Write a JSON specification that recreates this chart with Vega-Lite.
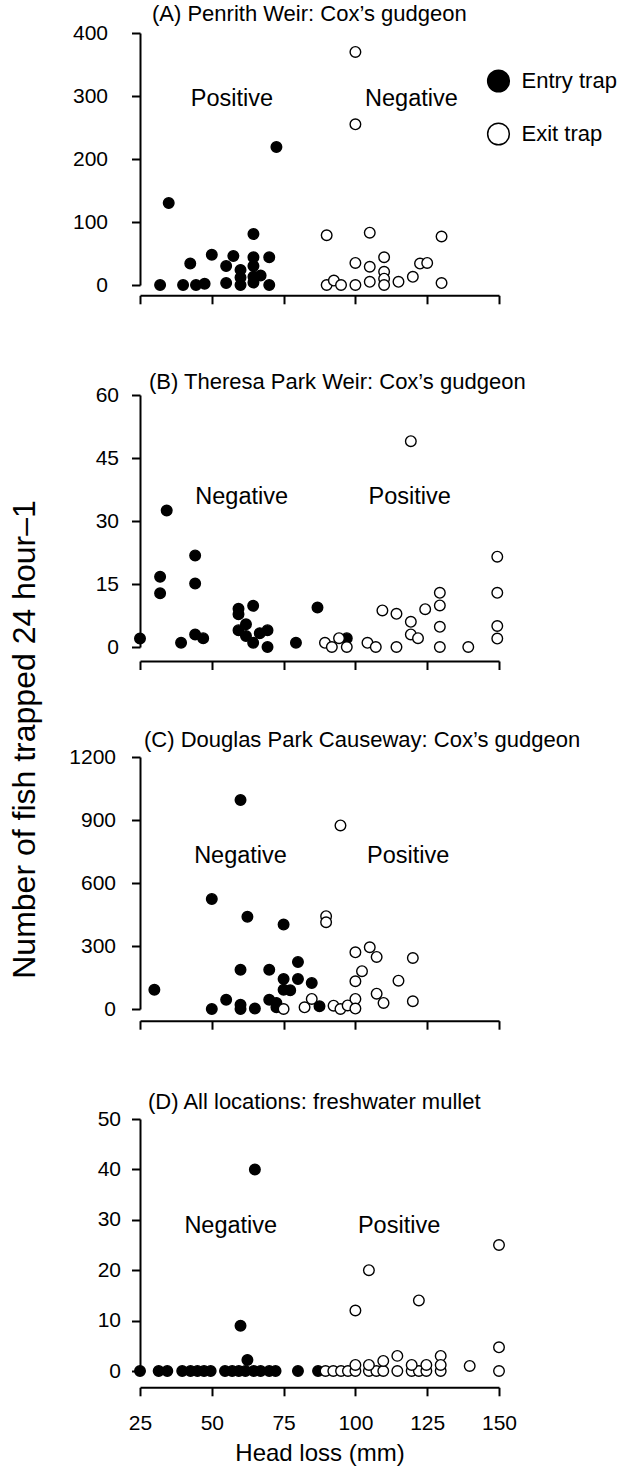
{
  "$schema": "https://vega.github.io/schema/vega-lite/v6.json",
  "background": "white",
  "padding": {"left": 8, "top": 2, "right": 0, "bottom": 0},
  "bounds": "flush",
  "spacing": 110,
  "datasets": {
    "a": [
      {"h": 32, "n": 0, "trap": "Entry trap"}, {"h": 35, "n": 130, "trap": "Entry trap"},
      {"h": 40, "n": 0, "trap": "Entry trap"}, {"h": 42.5, "n": 34, "trap": "Entry trap"},
      {"h": 44.5, "n": 0, "trap": "Entry trap"}, {"h": 47.5, "n": 2, "trap": "Entry trap"},
      {"h": 50, "n": 48, "trap": "Entry trap"}, {"h": 55, "n": 30, "trap": "Entry trap"},
      {"h": 55, "n": 3, "trap": "Entry trap"}, {"h": 57.5, "n": 46, "trap": "Entry trap"},
      {"h": 60, "n": 24, "trap": "Entry trap"}, {"h": 60, "n": 12, "trap": "Entry trap"},
      {"h": 60, "n": 0, "trap": "Entry trap"}, {"h": 64.5, "n": 81, "trap": "Entry trap"},
      {"h": 64.5, "n": 44, "trap": "Entry trap"}, {"h": 64.5, "n": 30, "trap": "Entry trap"},
      {"h": 64.5, "n": 13, "trap": "Entry trap"}, {"h": 64.5, "n": 4, "trap": "Entry trap"},
      {"h": 67, "n": 15, "trap": "Entry trap"}, {"h": 70, "n": 44, "trap": "Entry trap"},
      {"h": 70, "n": 0, "trap": "Entry trap"}, {"h": 72.5, "n": 219, "trap": "Entry trap"},
      {"h": 90, "n": 0, "trap": "Exit trap"}, {"h": 90, "n": 79, "trap": "Exit trap"},
      {"h": 92.5, "n": 7, "trap": "Exit trap"}, {"h": 95, "n": 0, "trap": "Exit trap"},
      {"h": 100, "n": 370, "trap": "Exit trap"}, {"h": 100, "n": 255, "trap": "Exit trap"},
      {"h": 100, "n": 35, "trap": "Exit trap"}, {"h": 100, "n": 0, "trap": "Exit trap"},
      {"h": 105, "n": 83, "trap": "Exit trap"}, {"h": 105, "n": 29, "trap": "Exit trap"},
      {"h": 105, "n": 5, "trap": "Exit trap"}, {"h": 110, "n": 44, "trap": "Exit trap"},
      {"h": 110, "n": 21, "trap": "Exit trap"}, {"h": 110, "n": 10, "trap": "Exit trap"},
      {"h": 110, "n": 0, "trap": "Exit trap"}, {"h": 115, "n": 5, "trap": "Exit trap"},
      {"h": 120, "n": 13, "trap": "Exit trap"}, {"h": 122.5, "n": 34, "trap": "Exit trap"},
      {"h": 125, "n": 35, "trap": "Exit trap"}, {"h": 130, "n": 77, "trap": "Exit trap"},
      {"h": 130, "n": 3, "trap": "Exit trap"}
    ],
    "b": [
      {"h": 25, "n": 2, "trap": "Entry trap"}, {"h": 32, "n": 16.7, "trap": "Entry trap"},
      {"h": 32, "n": 12.8, "trap": "Entry trap"}, {"h": 34.3, "n": 32.5, "trap": "Entry trap"},
      {"h": 39.3, "n": 1, "trap": "Entry trap"}, {"h": 44.2, "n": 21.8, "trap": "Entry trap"},
      {"h": 44.2, "n": 15.1, "trap": "Entry trap"}, {"h": 44.2, "n": 3, "trap": "Entry trap"},
      {"h": 47, "n": 2.1, "trap": "Entry trap"}, {"h": 59.3, "n": 9.1, "trap": "Entry trap"},
      {"h": 59.3, "n": 7.8, "trap": "Entry trap"}, {"h": 59.3, "n": 4, "trap": "Entry trap"},
      {"h": 61.9, "n": 5.4, "trap": "Entry trap"}, {"h": 61.9, "n": 2.6, "trap": "Entry trap"},
      {"h": 64.4, "n": 9.8, "trap": "Entry trap"}, {"h": 64.4, "n": 1, "trap": "Entry trap"},
      {"h": 66.7, "n": 3.3, "trap": "Entry trap"}, {"h": 69.4, "n": 4, "trap": "Entry trap"},
      {"h": 69.4, "n": 0, "trap": "Entry trap"}, {"h": 79.3, "n": 1, "trap": "Entry trap"},
      {"h": 86.8, "n": 9.4, "trap": "Entry trap"}, {"h": 97, "n": 2.1, "trap": "Entry trap"},
      {"h": 89.4, "n": 1, "trap": "Exit trap"}, {"h": 91.8, "n": 0, "trap": "Exit trap"},
      {"h": 94.3, "n": 2.1, "trap": "Exit trap"}, {"h": 97, "n": 0, "trap": "Exit trap"},
      {"h": 104.2, "n": 1, "trap": "Exit trap"}, {"h": 107.1, "n": 0, "trap": "Exit trap"},
      {"h": 109.4, "n": 8.7, "trap": "Exit trap"}, {"h": 114.3, "n": 7.9, "trap": "Exit trap"},
      {"h": 114.3, "n": 0, "trap": "Exit trap"}, {"h": 119.3, "n": 49, "trap": "Exit trap"},
      {"h": 119.3, "n": 6, "trap": "Exit trap"}, {"h": 119.3, "n": 3, "trap": "Exit trap"},
      {"h": 121.8, "n": 2.1, "trap": "Exit trap"}, {"h": 124.3, "n": 9, "trap": "Exit trap"},
      {"h": 129.4, "n": 12.9, "trap": "Exit trap"}, {"h": 129.4, "n": 9.9, "trap": "Exit trap"},
      {"h": 129.4, "n": 4.8, "trap": "Exit trap"}, {"h": 129.4, "n": 0, "trap": "Exit trap"},
      {"h": 139.3, "n": 0, "trap": "Exit trap"}, {"h": 149.4, "n": 21.5, "trap": "Exit trap"},
      {"h": 149.4, "n": 12.9, "trap": "Exit trap"}, {"h": 149.4, "n": 5, "trap": "Exit trap"},
      {"h": 149.4, "n": 2, "trap": "Exit trap"}
    ],
    "c": [
      {"h": 30, "n": 92, "trap": "Entry trap"}, {"h": 50, "n": 524, "trap": "Entry trap"},
      {"h": 50, "n": 0, "trap": "Entry trap"}, {"h": 55, "n": 44, "trap": "Entry trap"},
      {"h": 60, "n": 995, "trap": "Entry trap"}, {"h": 60, "n": 187, "trap": "Entry trap"},
      {"h": 60, "n": 20, "trap": "Entry trap"}, {"h": 60, "n": 0, "trap": "Entry trap"},
      {"h": 62.4, "n": 439, "trap": "Entry trap"}, {"h": 65, "n": 2, "trap": "Entry trap"},
      {"h": 70, "n": 187, "trap": "Entry trap"}, {"h": 70, "n": 44, "trap": "Entry trap"},
      {"h": 72.5, "n": 29, "trap": "Entry trap"}, {"h": 72.5, "n": 8, "trap": "Entry trap"},
      {"h": 75, "n": 402, "trap": "Entry trap"}, {"h": 75, "n": 143, "trap": "Entry trap"},
      {"h": 75, "n": 92, "trap": "Entry trap"}, {"h": 77.3, "n": 89, "trap": "Entry trap"},
      {"h": 80, "n": 224, "trap": "Entry trap"}, {"h": 80, "n": 143, "trap": "Entry trap"},
      {"h": 84.8, "n": 124, "trap": "Entry trap"}, {"h": 87.5, "n": 13, "trap": "Entry trap"},
      {"h": 75, "n": 0, "trap": "Exit trap"}, {"h": 82.3, "n": 8, "trap": "Exit trap"},
      {"h": 84.8, "n": 48, "trap": "Exit trap"}, {"h": 89.8, "n": 442, "trap": "Exit trap"},
      {"h": 89.8, "n": 413, "trap": "Exit trap"}, {"h": 92.4, "n": 16, "trap": "Exit trap"},
      {"h": 94.8, "n": 874, "trap": "Exit trap"}, {"h": 94.8, "n": 0, "trap": "Exit trap"},
      {"h": 97.3, "n": 17, "trap": "Exit trap"}, {"h": 100, "n": 270, "trap": "Exit trap"},
      {"h": 100, "n": 132, "trap": "Exit trap"}, {"h": 100, "n": 48, "trap": "Exit trap"},
      {"h": 100, "n": 2, "trap": "Exit trap"}, {"h": 102.3, "n": 180, "trap": "Exit trap"},
      {"h": 105, "n": 294, "trap": "Exit trap"}, {"h": 107.4, "n": 248, "trap": "Exit trap"},
      {"h": 107.4, "n": 73, "trap": "Exit trap"}, {"h": 109.8, "n": 29, "trap": "Exit trap"},
      {"h": 115, "n": 135, "trap": "Exit trap"}, {"h": 120, "n": 243, "trap": "Exit trap"},
      {"h": 120, "n": 37, "trap": "Exit trap"}
    ],
    "d": [
      {"h": 25, "n": 0, "trap": "Entry trap"}, {"h": 31.5, "n": 0, "trap": "Entry trap"},
      {"h": 34.5, "n": 0, "trap": "Entry trap"}, {"h": 39.7, "n": 0, "trap": "Entry trap"},
      {"h": 42.6, "n": 0, "trap": "Entry trap"}, {"h": 45, "n": 0, "trap": "Entry trap"},
      {"h": 47.3, "n": 0, "trap": "Entry trap"}, {"h": 49.6, "n": 0, "trap": "Entry trap"},
      {"h": 54.6, "n": 0, "trap": "Entry trap"}, {"h": 57.1, "n": 0, "trap": "Entry trap"},
      {"h": 59.4, "n": 0, "trap": "Entry trap"}, {"h": 61.7, "n": 0, "trap": "Entry trap"},
      {"h": 64.6, "n": 0, "trap": "Entry trap"}, {"h": 67, "n": 0, "trap": "Entry trap"},
      {"h": 70, "n": 0, "trap": "Entry trap"}, {"h": 72.2, "n": 0, "trap": "Entry trap"},
      {"h": 80, "n": 0, "trap": "Entry trap"}, {"h": 87, "n": 0, "trap": "Entry trap"},
      {"h": 65, "n": 40, "trap": "Entry trap"}, {"h": 60, "n": 9, "trap": "Entry trap"},
      {"h": 62.4, "n": 2.2, "trap": "Entry trap"},
      {"h": 89.6, "n": 0, "trap": "Exit trap"}, {"h": 92.3, "n": 0, "trap": "Exit trap"},
      {"h": 95, "n": 0, "trap": "Exit trap"}, {"h": 97.4, "n": 0, "trap": "Exit trap"},
      {"h": 100, "n": 0, "trap": "Exit trap"}, {"h": 104.7, "n": 0, "trap": "Exit trap"},
      {"h": 107.3, "n": 0, "trap": "Exit trap"}, {"h": 109.7, "n": 0, "trap": "Exit trap"},
      {"h": 114.6, "n": 0, "trap": "Exit trap"}, {"h": 119.6, "n": 0, "trap": "Exit trap"},
      {"h": 122.1, "n": 0, "trap": "Exit trap"}, {"h": 124.7, "n": 0, "trap": "Exit trap"},
      {"h": 129.7, "n": 0, "trap": "Exit trap"}, {"h": 150, "n": 0, "trap": "Exit trap"},
      {"h": 100, "n": 1.2, "trap": "Exit trap"}, {"h": 100, "n": 12, "trap": "Exit trap"},
      {"h": 104.7, "n": 20, "trap": "Exit trap"}, {"h": 104.7, "n": 1.2, "trap": "Exit trap"},
      {"h": 109.7, "n": 2, "trap": "Exit trap"}, {"h": 114.6, "n": 3, "trap": "Exit trap"},
      {"h": 119.6, "n": 1.2, "trap": "Exit trap"}, {"h": 122.1, "n": 14, "trap": "Exit trap"},
      {"h": 124.7, "n": 1.2, "trap": "Exit trap"}, {"h": 129.7, "n": 3, "trap": "Exit trap"},
      {"h": 129.7, "n": 1.2, "trap": "Exit trap"}, {"h": 139.8, "n": 1, "trap": "Exit trap"},
      {"h": 150, "n": 25, "trap": "Exit trap"}, {"h": 150, "n": 4.7, "trap": "Exit trap"}
    ],
    "notes": [
      {"panel": "A", "h": 57, "n": 295, "label": "Positive"},
      {"panel": "A", "h": 119.5, "n": 295, "label": "Negative"},
      {"panel": "B", "h": 60.4, "n": 35.8, "label": "Negative"},
      {"panel": "B", "h": 118.9, "n": 35.8, "label": "Positive"},
      {"panel": "C", "h": 60, "n": 728, "label": "Negative"},
      {"panel": "C", "h": 118.4, "n": 728, "label": "Positive"},
      {"panel": "D", "h": 56.6, "n": 28.7, "label": "Negative"},
      {"panel": "D", "h": 115.2, "n": 28.7, "label": "Positive"}
    ]
  },
  "vconcat": [
    {
      "width": 359, "height": 252,
      "title": {"text": "(A) Penrith Weir: Cox’s gudgeon", "dx": 12, "offset": -3.7},
      "layer": [
        {
          "data": {"name": "a"},
          "mark": {"type": "circle", "size": 112, "stroke": "black", "strokeWidth": 1.4, "opacity": 1},
          "encoding": {
            "x": {"field": "h", "type": "quantitative", "scale": {"domain": [25, 150], "nice": false},
                  "axis": {"values": [25, 50, 75, 100, 125, 150], "labels": false, "title": null, "offset": 10.3,
                           "domain": true, "domainColor": "#000000", "domainWidth": 2}},
            "y": {"field": "n", "type": "quantitative", "scale": {"domain": [0, 400], "nice": false},
                  "axis": {"values": [0, 100, 200, 300, 400], "format": "d", "title": null, "labelPadding": 24,
                           "domain": true, "domainColor": "#000000", "domainWidth": 2}},
            "fill": {"field": "trap", "type": "nominal",
                     "scale": {"domain": ["Entry trap", "Exit trap"], "range": ["black", "white"]},
                     "legend": {"orient": "none", "legendX": 346.5, "legendY": 36, "title": null}}
          }
        },
        {
          "data": {"name": "notes"},
          "transform": [{"filter": "datum.panel === 'A'"}],
          "mark": {"type": "text", "fontSize": 23.5},
          "encoding": {
            "x": {"field": "h", "type": "quantitative", "scale": {"domain": [25, 150]}},
            "y": {"field": "n", "type": "quantitative", "scale": {"domain": [0, 400]}},
            "text": {"field": "label"}
          }
        }
      ]
    },
    {
      "width": 359, "height": 252,
      "title": {"text": "(B) Theresa Park Weir: Cox’s gudgeon", "dx": 9, "offset": -10},
      "layer": [
        {
          "data": {"name": "b"},
          "mark": {"type": "circle", "size": 112, "stroke": "black", "strokeWidth": 1.4, "opacity": 1},
          "encoding": {
            "x": {"field": "h", "type": "quantitative", "scale": {"domain": [25, 150], "nice": false},
                  "axis": {"values": [25, 50, 75, 100, 125, 150], "labels": false, "title": null, "offset": 14,
                           "domain": true, "domainColor": "#000000", "domainWidth": 2}},
            "y": {"field": "n", "type": "quantitative", "scale": {"domain": [0, 60], "nice": false},
                  "axis": {"values": [0, 15, 30, 45, 60], "format": "d", "labelPadding": 13,
                           "domain": true, "domainColor": "#000000", "domainWidth": 2,
                           "title": "Number of fish trapped 24 hour–1", "titleFontSize": 32,
                           "titleAngle": -90, "titleX": -106, "titleY": 344, "titleAlign": "center",
                           "titleBaseline": "alphabetic"}},
            "fill": {"field": "trap", "type": "nominal",
                     "scale": {"domain": ["Entry trap", "Exit trap"], "range": ["black", "white"]},
                     "legend": null}
          }
        },
        {
          "data": {"name": "notes"},
          "transform": [{"filter": "datum.panel === 'B'"}],
          "mark": {"type": "text", "fontSize": 23.5},
          "encoding": {
            "x": {"field": "h", "type": "quantitative", "scale": {"domain": [25, 150]}},
            "y": {"field": "n", "type": "quantitative", "scale": {"domain": [0, 60]}},
            "text": {"field": "label"}
          }
        }
      ]
    },
    {
      "width": 359, "height": 252,
      "title": {"text": "(C) Douglas Park Causeway: Cox’s gudgeon", "dx": 4, "offset": -6},
      "layer": [
        {
          "data": {"name": "c"},
          "mark": {"type": "circle", "size": 112, "stroke": "black", "strokeWidth": 1.4, "opacity": 1},
          "encoding": {
            "x": {"field": "h", "type": "quantitative", "scale": {"domain": [25, 150], "nice": false},
                  "axis": {"values": [25, 50, 75, 100, 125, 150], "labels": false, "title": null, "offset": 11.7,
                           "domain": true, "domainColor": "#000000", "domainWidth": 2}},
            "y": {"field": "n", "type": "quantitative", "scale": {"domain": [0, 1200], "nice": false},
                  "axis": {"values": [0, 300, 600, 900, 1200], "format": "d", "labelPadding": 16, "title": null,
                           "domain": true, "domainColor": "#000000", "domainWidth": 2}},
            "fill": {"field": "trap", "type": "nominal",
                     "scale": {"domain": ["Entry trap", "Exit trap"], "range": ["black", "white"]},
                     "legend": null}
          }
        },
        {
          "data": {"name": "notes"},
          "transform": [{"filter": "datum.panel === 'C'"}],
          "mark": {"type": "text", "fontSize": 23.5},
          "encoding": {
            "x": {"field": "h", "type": "quantitative", "scale": {"domain": [25, 150]}},
            "y": {"field": "n", "type": "quantitative", "scale": {"domain": [0, 1200]}},
            "text": {"field": "label"}
          }
        }
      ]
    },
    {
      "width": 359, "height": 252,
      "title": {"text": "(D) All locations: freshwater mullet", "dx": 8, "offset": -6},
      "layer": [
        {
          "data": {"name": "d"},
          "mark": {"type": "circle", "size": 112, "stroke": "black", "strokeWidth": 1.4, "opacity": 1},
          "encoding": {
            "x": {"field": "h", "type": "quantitative", "scale": {"domain": [25, 150], "nice": false},
                  "axis": {"values": [25, 50, 75, 100, 125, 150], "title": "Head loss (mm)", "offset": 16.3,
                           "domain": true, "domainColor": "#000000", "domainWidth": 2,
                           "labelPadding": 16.5, "titleFontSize": 24, "titlePadding": 8}},
            "y": {"field": "n", "type": "quantitative", "scale": {"domain": [0, 50], "nice": false},
                  "axis": {"values": [0, 10, 20, 30, 40, 50], "format": "d", "title": null, "labelPadding": 11,
                           "domain": true, "domainColor": "#000000", "domainWidth": 2}},
            "fill": {"field": "trap", "type": "nominal",
                     "scale": {"domain": ["Entry trap", "Exit trap"], "range": ["black", "white"]},
                     "legend": null}
          }
        },
        {
          "data": {"name": "notes"},
          "transform": [{"filter": "datum.panel === 'D'"}],
          "mark": {"type": "text", "fontSize": 23.5},
          "encoding": {
            "x": {"field": "h", "type": "quantitative", "scale": {"domain": [25, 150]}},
            "y": {"field": "n", "type": "quantitative", "scale": {"domain": [0, 50]}},
            "text": {"field": "label"}
          }
        }
      ]
    }
  ],
  "resolve": {"scale": {"fill": "independent"}, "legend": {"fill": "independent"}},
  "config": {
    "font": "Liberation Sans",
    "view": {"stroke": null},
    "axis": {
      "grid": false, "domain": true, "ticks": true, "domainColor": "black", "domainWidth": 2,
      "domainOpacity": 1, "tickColor": "black", "tickWidth": 2, "tickOpacity": 1,
      "tickSize": 8.5, "labelColor": "black", "labelFontSize": 21, "labelFont": "Liberation Sans",
      "labelFlush": false, "labelOverlap": false, "titleColor": "black", "titleFontWeight": "normal",
      "titleFont": "Liberation Sans"
    },
    "title": {"fontSize": 22, "fontWeight": "normal", "color": "black", "font": "Liberation Sans",
              "anchor": "start", "frame": "group", "baseline": "alphabetic"},
    "text": {"color": "black", "font": "Liberation Sans"},
    "legend": {
      "labelFontSize": 22, "labelColor": "black", "labelFont": "Liberation Sans", "symbolSize": 470,
      "symbolType": "circle", "symbolStrokeColor": "black", "symbolStrokeWidth": 1.5, "labelOffset": 11,
      "padding": 0, "rowPadding": 25
    }
  }
}
